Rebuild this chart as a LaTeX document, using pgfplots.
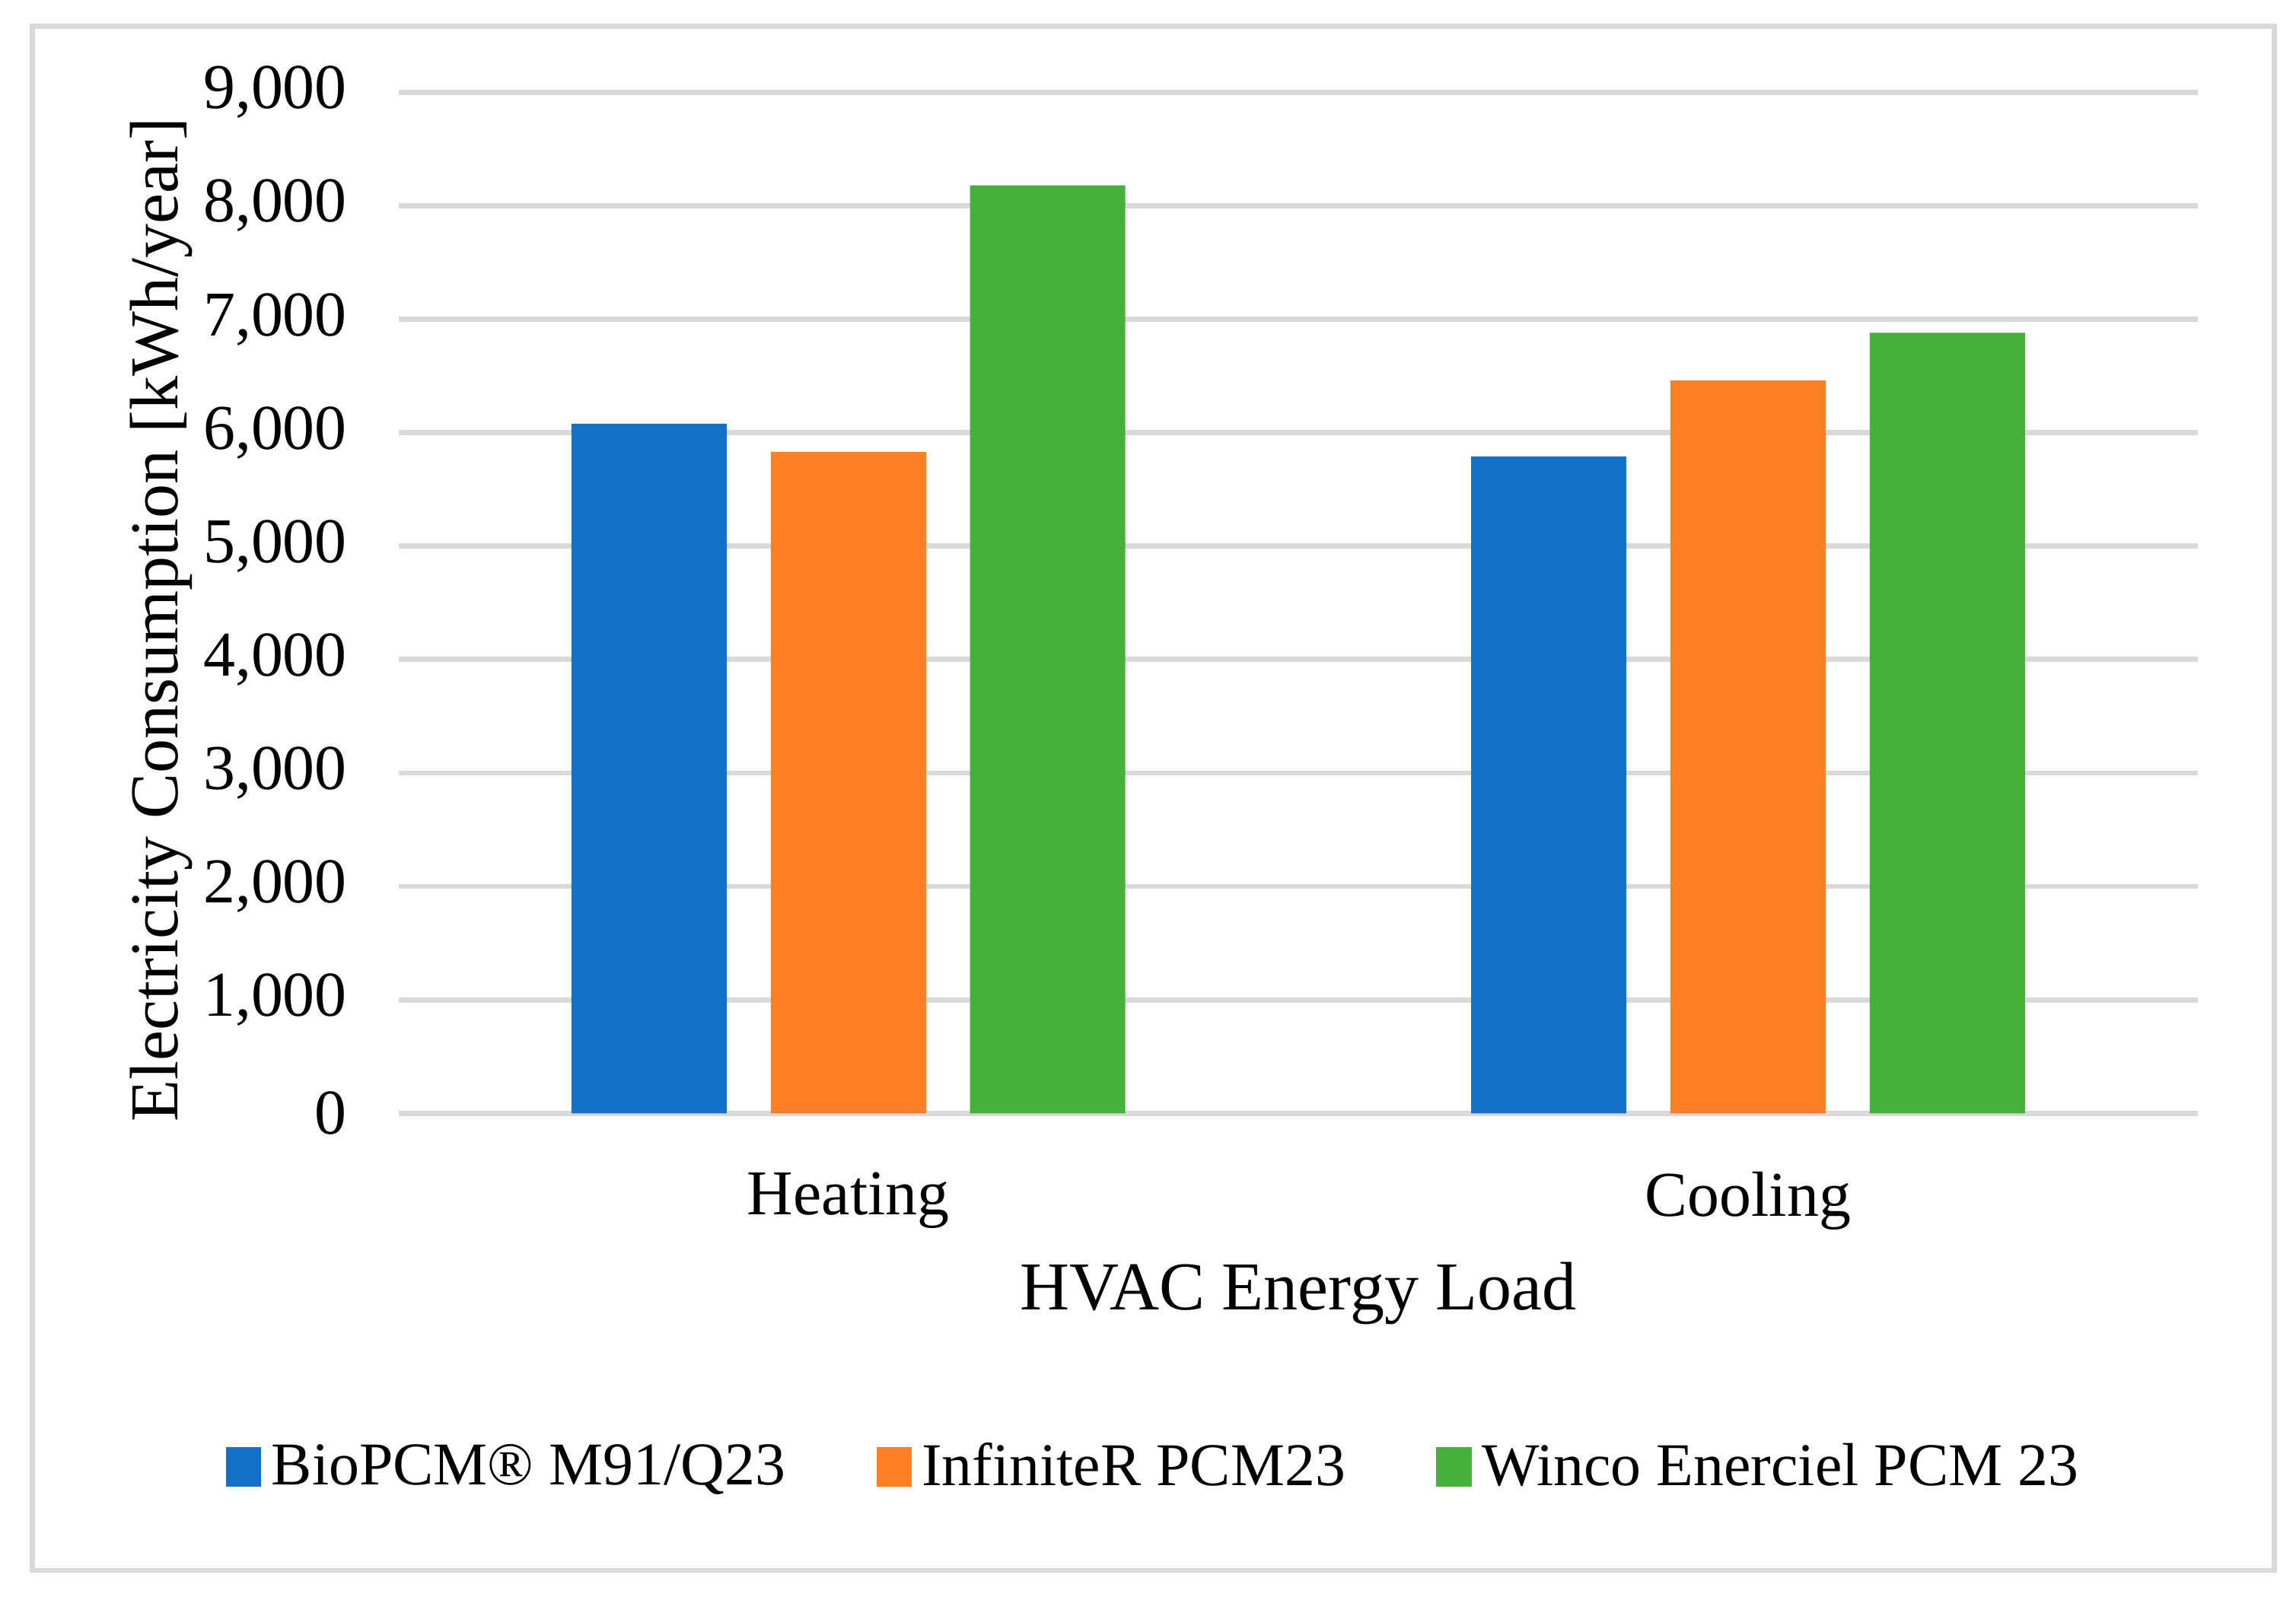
\documentclass[border=0pt]{standalone}
\usepackage{fontspec}
\setmainfont{Liberation Serif}
\usepackage{pgfplots}
\pgfplotsset{compat=1.18}
\definecolor{cblue}{RGB}{21,112,200}
\definecolor{corange}{RGB}{255,126,38}
\definecolor{cgreen}{RGB}{69,176,58}
\definecolor{cgrid}{RGB}{217,217,217}
\pgfplotsset{sq/.style={legend image code/.code={\fill[##1] (0cm,-0.12cm) rectangle (0.24cm,0.15cm);}}}
\begin{document}
\fontsize{12.4}{14}\selectfont
\begin{tikzpicture}
\useasboundingbox (0,0) rectangle (15.67,10.9);
\draw[cgrid, line width=1pt] (0.22,0.18) rectangle (15.52,10.72);
\begin{axis}[
  at={(2.72cm,3.30cm)}, anchor=south west,
  scale only axis, width=12.28cm, height=6.97cm,
  xmin=-0.5, xmax=1.5, ymin=0, ymax=9000,
  xtick={0,1}, xticklabels={Heating,Cooling},
  ytick={0,1000,...,9000},
  /pgf/number format/.cd, 1000 sep={,}, assume math mode=true, /pgfplots/.cd,
  scaled y ticks=false,
  ymajorgrids, grid style={cgrid, line width=1pt},
  axis line style={draw=none}, major tick length=0pt,
  yticklabel style={xshift=-0.2cm},
  xticklabel style={yshift=-0.25cm},
  xlabel={HVAC Energy Load},
  ylabel={Electricity Consumption [kWh/year]},
  label style={font=\fontsize{13.3}{15}\selectfont},
  xlabel style={at={(axis description cs:0.5,-0.1765)}, anchor=center},
  ylabel style={at={(axis description cs:-0.132,0.4835)}, anchor=center},
  legend style={at={(axis description cs:0.4218,-0.3486)}, anchor=center, draw=none,
    legend columns=3, font=\fontsize{11.8}{13}\selectfont,
    /tikz/every even column/.append style={column sep=0.55cm}},
]
\addplot[ybar, fill=cblue, draw=none, bar width=0.1726, bar shift=-0.2215, sq] coordinates {(0,6080) (1,5790)};
\addplot[ybar, fill=corange, draw=none, bar width=0.1726, bar shift=0, sq] coordinates {(0,5830) (1,6460)};
\addplot[ybar, fill=cgreen, draw=none, bar width=0.1726, bar shift=0.2215, sq] coordinates {(0,8180) (1,6880)};
\legend{BioPCM® M91/Q23, InfiniteR PCM23, Winco Enerciel PCM 23}
\end{axis}
\end{tikzpicture}
\end{document}
